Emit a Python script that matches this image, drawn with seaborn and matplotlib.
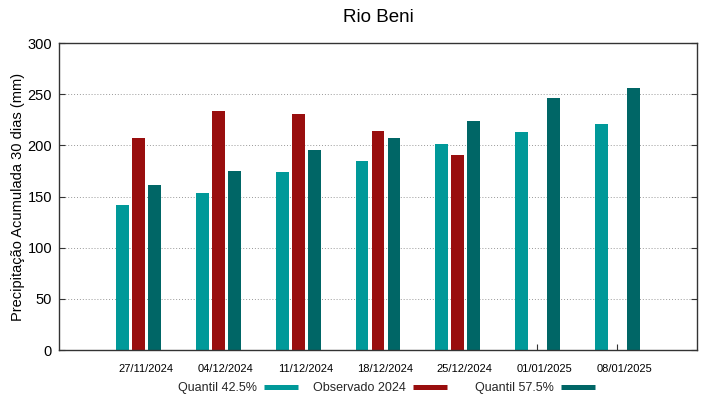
import matplotlib
matplotlib.use("Agg")
import matplotlib.pyplot as plt
import matplotlib.transforms as mtransforms
import seaborn as sns
import pandas as pd
import numpy as np
from matplotlib.lines import Line2D

dates = ["27/11/2024", "04/12/2024", "11/12/2024", "18/12/2024",
         "25/12/2024", "01/01/2025", "08/01/2025"]
q425 = [142, 153, 174, 185, 201, 213, 221]
obs2024 = [207, 234, 231, 214, 191, np.nan, np.nan]
q575 = [161, 175, 195, 207, 224, 246, 256]
series_names = ["Quantil 42.5%", "Observado 2024", "Quantil 57.5%"]
colors = ["#009999", "#990e0e", "#006666"]

rows = []
for d, a, b, c in zip(dates, q425, obs2024, q575):
    rows.append((d, series_names[0], a))
    rows.append((d, series_names[1], b))
    rows.append((d, series_names[2], c))
df = pd.DataFrame(rows, columns=["data", "serie", "valor"])

sns.set_theme(style="white")
plt.rcParams["font.family"] = ["Liberation Sans", "DejaVu Sans"]

fig = plt.figure(figsize=(7.19, 3.99), dpi=100)
ax = fig.add_axes([0.082, 0.1228, 0.8874, 0.7694])

sns.barplot(data=df, x="data", y="valor", hue="serie", hue_order=series_names,
            palette=colors, width=0.6, gap=0.2, saturation=1, ax=ax,
            legend=False, linewidth=0, errorbar=None)

ax.set_xlim(-1, 7)
ax.set_ylim(0, 300)
ax.set_yticks(range(0, 301, 50))
ax.set_xlabel("")
ax.set_ylabel("Precipitação Acumulada 30 dias (mm)", fontsize=10.5, color="black", labelpad=2)
ax.set_title("Rio Beni", fontsize=13.5, color="black", pad=15)

for y in range(50, 300, 50):
    ax.axhline(y, color="#999999", linestyle=(0, (1, 2)), linewidth=0.7, zorder=0)
ax.set_axisbelow(True)

for s in ax.spines.values():
    s.set_visible(True)
    s.set_color("#333333")
    s.set_linewidth(1.0)

ax.tick_params(axis="x", direction="in", length=4, width=0.8, color="#333333",
               labelsize=8, pad=10, labelcolor="black", bottom=True)
ax.tick_params(axis="y", direction="in", length=4, width=0.8, color="#333333",
               labelsize=10.5, pad=5, labelcolor="black", left=True, right=True)
offset = mtransforms.ScaledTranslation(0.07, 0, fig.dpi_scale_trans)
for lab in ax.get_xticklabels():
    lab.set_transform(lab.get_transform() + offset)

# gnuplot-style legend: fixed columns, text right-aligned before the sample
patch_ends = [0.4145, 0.6217, 0.8275]
for name, col, xr in zip(series_names, colors, patch_ends):
    h = Line2D([0], [0], color=col, linewidth=3.6, solid_capstyle="butt")
    fig.legend([h], [name], loc="center right", bbox_to_anchor=(xr, 0.0276),
               frameon=False, markerfirst=False, fontsize=9, handlelength=2.72,
               handletextpad=0.56, borderpad=0, borderaxespad=0)

fig.savefig("out.png", dpi=100)
